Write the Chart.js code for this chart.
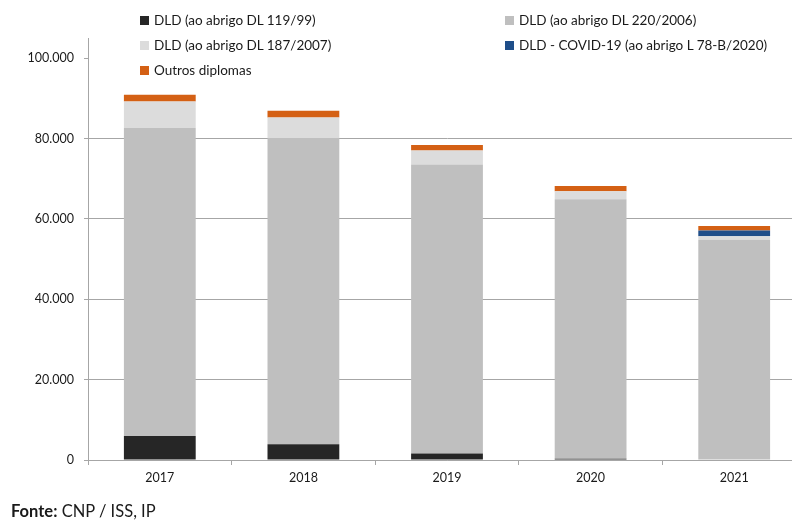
<!DOCTYPE html>
<html lang="pt">
<head>
<meta charset="utf-8">
<title>DLD por diploma</title>
<script src="https://cdn.jsdelivr.net/npm/chart.js@4.4.1/dist/chart.umd.min.js"></script>
<style>
    html, body { margin: 0; padding: 0; background: #fff; overflow: hidden; }
    body { width: 792px; height: 523px; position: relative; font-family: Lato, "Noto Sans", sans-serif; color: #1a1a1a; }
    #wrap { position: absolute; left: 0; top: 0; width: 806px; height: 523px; }
    #legend { position: absolute; left: 140px; top: 11px; display: grid; grid-template-columns: 365px auto; row-gap: 7px; font-size: 13.5px; }
    #legend .item { display: flex; align-items: center; height: 18px; white-space: nowrap; }
    #legend .box { width: 9px; height: 9px; margin-right: 5px; }
    #fonte { position: absolute; left: 11px; top: 501px; font-size: 16.5px; }
</style>
</head>
<body>
<div id="wrap"><canvas id="barChart" width="806" height="523"></canvas></div>
<div id="legend"></div>
<div id="fonte"><b>Fonte:</b> CNP / ISS, IP</div>
<script>
// Desempregados de longa duração por diploma legal
const anos = ['2017', '2018', '2019', '2020', '2021'];
const dl119 = [6000, 3900, 1600, 300, 0];
const dl220 = [76600, 76200, 71900, 64600, 54800];
const dl187 = [6600, 5100, 3500, 2000, 900];
const covid = [0, 0, 0, 0, 1400];
const outros = [1700, 1700, 1400, 1300, 1100];

const nomes = [
    'DLD (ao abrigo DL 119/99)',
    'DLD (ao abrigo DL 220/2006)',
    'DLD (ao abrigo DL 187/2007)',
    'DLD - COVID-19 (ao abrigo L 78-B/2020)',
    'Outros diplomas'
];
const cores = ['#262626', '#bfbfbf', '#dcdcdc', '#1f4e89', '#d46014'];
const series = [dl119, dl220, dl187, covid, outros];

// ordem da legenda (duas colunas, lida por linhas)
const ordemLegenda = [0, 1, 2, 3, 4];

function formatarMilhares(v) {
    return String(v).replace(/\B(?=(\d{3})+(?!\d))/g, '.');
}

document.addEventListener('DOMContentLoaded', function () {
    const ctx = document.getElementById('barChart').getContext('2d');
    const eixo = '#a6a6a6';

    new Chart(ctx, {
        type: 'bar',
        data: {
            labels: anos,
            datasets: series.map((s, i) => ({
                label: nomes[i],
                data: s,
                backgroundColor: cores[i],
                borderWidth: 0,
                categoryPercentage: 1,
                barPercentage: 0.5
            }))
        },
        options: {
            responsive: false,
            animation: false,
            layout: { padding: { top: 38, bottom: 33, left: 0, right: 0 } },
            plugins: {
                legend: { display: false },
                tooltip: { enabled: false }
            },
            scales: {
                x: {
                    stacked: true,
                    afterFit: (s) => { s.height = 30; },
                    grid: { offset: true, drawOnChartArea: false, tickLength: 5, color: eixo },
                    border: { color: eixo },
                    ticks: { color: '#1a1a1a', padding: 5, font: { family: 'Lato', size: 12.5 } }
                },
                y: {
                    stacked: true,
                    min: 0,
                    max: 105000,
                    afterFit: (s) => { s.width = 88; },
                    afterBuildTicks: (s) => {
                        s.ticks = [0, 20000, 40000, 60000, 80000, 100000].map(v => ({ value: v }));
                    },
                    grid: {
                        tickLength: 4,
                        tickColor: eixo,
                        color: (c) => (c.tick && c.tick.value === 100000) ? 'rgba(0,0,0,0)' : eixo
                    },
                    border: { color: eixo },
                    ticks: {
                        color: '#1a1a1a',
                        padding: 10,
                        font: { family: 'Lato', size: 12.5 },
                        callback: (v) => formatarMilhares(v)
                    }
                }
            }
        }
    });

    // legenda em HTML
    const leg = document.getElementById('legend');
    ordemLegenda.forEach(i => {
        const el = document.createElement('div');
        el.className = 'item';
        el.innerHTML = '<span class="box" style="background:' + cores[i] + '"></span>' + nomes[i];
        leg.appendChild(el);
    });
});
</script>
</body>
</html>
